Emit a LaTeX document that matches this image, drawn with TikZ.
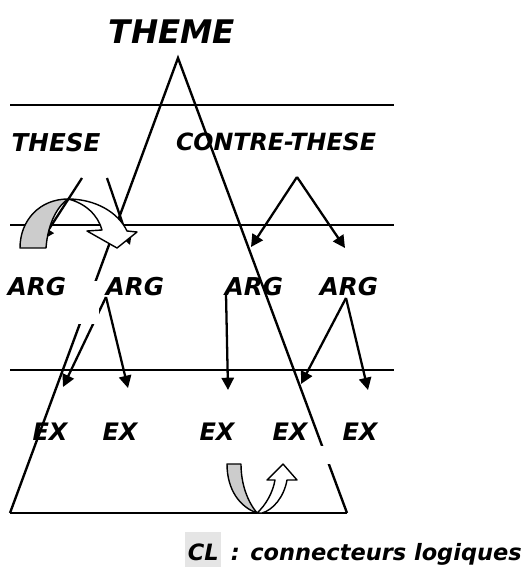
\documentclass[tikz,border=0pt]{standalone}
\usepackage{fontspec}
\setmainfont{DejaVu Sans}
\usetikzlibrary{arrows.meta,positioning}

\begin{document}
\begin{tikzpicture}[x=0.02cm,y=-0.02cm,
  lbl/.style={font=\bfseries\itshape\fontsize{#1}{#1}\selectfont,inner sep=0pt},
  side/.style={line width=1.35pt},
  rule/.style={line width=0.65pt},
  arr/.style={line width=1.3pt,-{Triangle[length=7pt,width=7pt]}},
  crv/.style={draw,line width=0.8pt,line join=round}]
  \useasboundingbox (0,0) rectangle (531,567);

  % levels
  \foreach \y in {105,225,370}
    \draw[rule] (10,\y) -- (394,\y);
  \draw[line width=1.3pt] (141,105) -- (153,105);

  % big triangle
  \coordinate (top) at (178,58);
  \coordinate (bl) at (10,513);
  \coordinate (br) at (347,513);
  \coordinate (mid) at (165,513);
  \draw[side] (bl) -- (top) -- (br);
  \draw[side] (bl) -- (mid);
  \draw[rule] (mid) -- (br);

  % arrow ends
  \coordinate (these-l) at (82,178);
  \coordinate (these-r) at (107,178);
  \coordinate (to-arg1) at (42,240);
  \coordinate (to-arg2) at (130,245);
  \coordinate (contre-s) at (297,177);
  \coordinate (to-arg3) at (251,247);
  \coordinate (to-arg4) at (345,248);
  \coordinate (arg2-s) at (106,297);
  \coordinate (arg3-s) at (226,294);
  \coordinate (arg4-s) at (346,298);
  \coordinate (to-ex1) at (63,387);
  \coordinate (to-ex2) at (128,388);
  \coordinate (to-ex3) at (228,390);
  \coordinate (to-ex4) at (301,384);
  \coordinate (to-ex5) at (368,390);

  \draw[arr] (these-l) -- (to-arg1);
  \draw[arr] (these-r) -- (to-arg2);
  \draw[arr] (arg2-s) -- (to-ex1);

  % white boxes over the lines
  \fill[white] (5,281) rectangle (99,324);
  \fill[white] (314,446) rectangle (336,464);

  \draw[arr] (contre-s) -- (to-arg3);
  \draw[arr] (contre-s) -- (to-arg4);
  \draw[arr] (arg2-s) -- (to-ex2);
  \draw[arr] (arg3-s) -- (to-ex3);
  \draw[arr] (arg4-s) -- (to-ex4);
  \draw[arr] (arg4-s) -- (to-ex5);

  % curved arrows
  \path[crv,fill=gray!40] (20,248) .. controls (20,220) and (40,199) .. (68,199)
    .. controls (59,205) and (48,221) .. (46,248) -- cycle;
  \path[crv,fill=white] (68,199) .. controls (95,199) and (118,212) .. (127,231)
    -- (137,232) -- (117,248) -- (87,231) -- (102,230)
    .. controls (98,215) and (85,203) .. (68,199) -- cycle;
  \path[crv,fill=gray!40] (227,464) -- (241,464) .. controls (241,485) and (248,502) .. (257,513)
    .. controls (240,507) and (227,490) .. (227,464) -- cycle;
  \path[crv,fill=white] (257,513) .. controls (266,505) and (273,492) .. (275,480)
    -- (267,480) -- (283,464) -- (297,480) -- (287,480)
    .. controls (284,497) and (273,510) .. (262,513) -- cycle;

  % labels
  \node[lbl=18.5] (theme) at (172,32) {THEME};
  \node[lbl=14] (these) at (56,143) {THESE};
  \node[lbl=13.5] (contre) at (276,142) {CONTRE-THESE};
  \node[lbl=14] (arg1) at (37,287) {ARG};
  \node[lbl=14] (arg2) at (135,287) {ARG};
  \node[lbl=14] (arg3) at (254,287) {ARG};
  \node[lbl=14] (arg4) at (349,287) {ARG};
  \node[lbl=13.7] (ex1) at (50,432) {EX};
  \node[lbl=13.7] (ex2) at (120,432) {EX};
  \node[lbl=13.7] (ex3) at (217,432) {EX};
  \node[lbl=13.7] (ex4) at (290,432) {EX};
  \node[lbl=13.7] (ex5) at (360,432) {EX};

  % legend
  \node[lbl=12.8,fill=gray!20,inner xsep=1.5pt,text height=16pt,text depth=4pt,
    anchor=base west] (cl) at (185,560) {CL};
  \node[lbl=12.8,base right=5pt of cl] (legend) {: connecteurs logiques};
\end{tikzpicture}
\end{document}
